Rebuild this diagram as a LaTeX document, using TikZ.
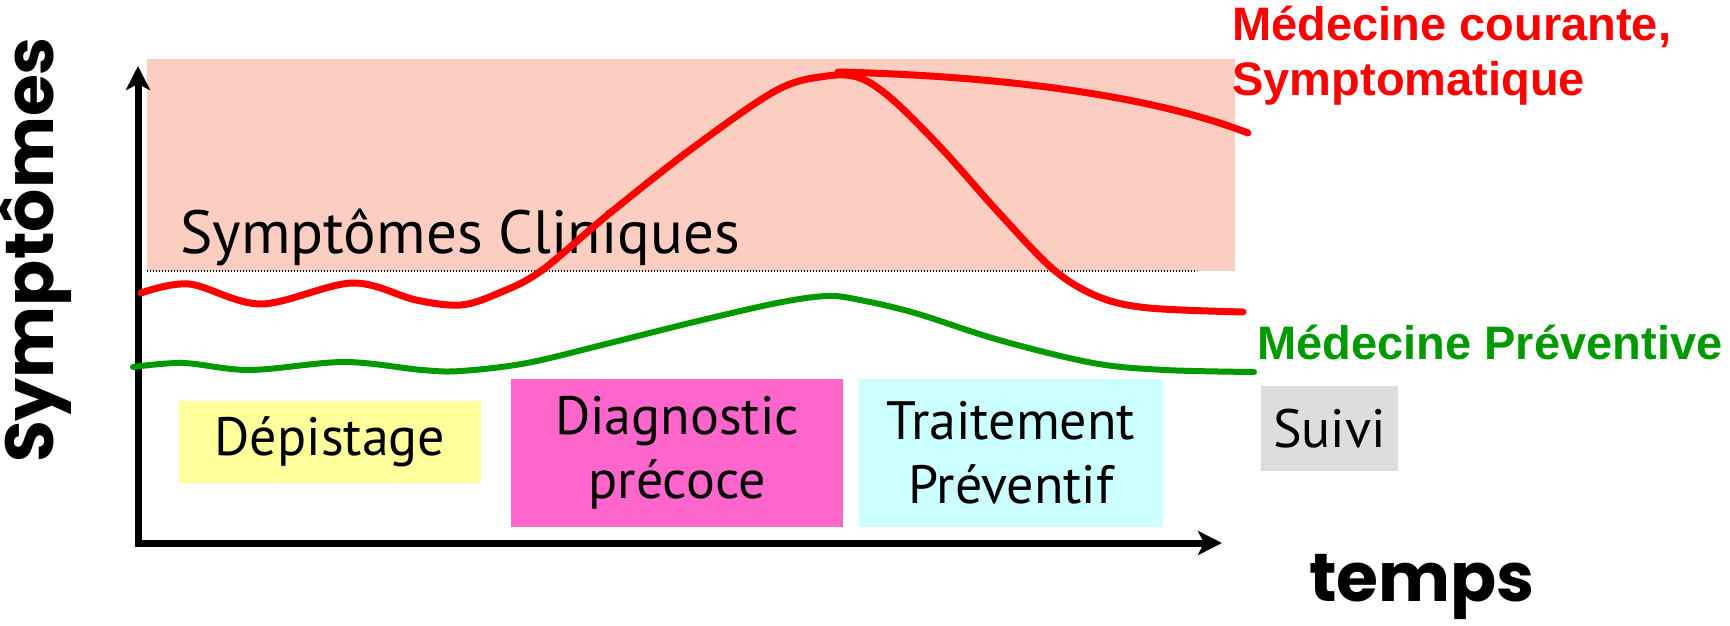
\documentclass[tikz,border=0pt]{standalone}
\usepackage{fontspec}
\setmainfont{PT Sans}
\newfontfamily\axisfont{Poppins}
\newfontfamily\labelfont{Liberation Sans}
\usepackage{tikz}
\usetikzlibrary{arrows.meta}
\definecolor{cliniquerose}{RGB}{251,206,193}
\definecolor{depistjaune}{RGB}{255,255,156}
\definecolor{diagrose}{RGB}{255,102,204}
\definecolor{traitcyan}{RGB}{204,255,255}
\definecolor{suivigris}{RGB}{221,221,221}
\definecolor{prevvert}{RGB}{0,153,0}

\begin{document}
\begin{tikzpicture}[
	x=0.5pt,y=-0.5pt,
	phasebox/.style={fill=#1,inner sep=0pt,align=center,font=\fontsize{27}{32}\selectfont},
	axe/.style={line width=3.5pt,line join=miter,{Stealth[length=12pt,width=12pt,inset=3pt]}-{Stealth[length=12pt,width=12pt,inset=3pt]}},
	courbe/.style={line width=#1,line cap=round,line join=round}
	]
		\useasboundingbox (0,0) rectangle (1730,626);

		% zone des symptomes cliniques
		\fill[cliniquerose] (147,59) rectangle (1235,271);
		\draw[line width=0.7pt,dash pattern=on 0.6pt off 0.9pt] (147,271) -- (1197,271);
		\node[anchor=base west,inner sep=0pt,font=\fontsize{30.5}{36}\selectfont] (cliniques) at (180,253) {Symptômes Cliniques};

		% axes
		\coordinate (haut) at (138,66);
		\coordinate (origine) at (138,543);
		\coordinate (droite) at (1222,543);
		\draw[axe] (haut) -- (origine) -- (droite);
		\node[rotate=90,anchor=base,inner sep=0pt,font=\axisfont\bfseries\fontsize{34}{40}\selectfont] (ordonnee) at (54,250) {Symptômes};
		\node[anchor=base,inner sep=0pt,font=\axisfont\bfseries\fontsize{34}{40}\selectfont] (abscisse) at (1422,601) {temps};

		% medecine courante
		\draw[courbe=3.5pt,red] plot[smooth,tension=0.55] coordinates {(141,293) (189,284) (261,304) (352,283) (416,300) (461,305) (499,293) (541,271) (610,213) (694,147) (777,90) (827,76) (860,78) (893,100) (943,150) (999,213) (1054,270) (1099,297) (1149,308) (1243,312)};
		\draw[courbe=3.5pt,red] (838,72) .. controls (1000,76) and (1150,95) .. (1248,133);
		\node[anchor=north west,inner sep=0pt,align=left,red,font=\labelfont\bfseries\fontsize{23.5}{27.5}\selectfont] (courante) at (1232,6) {Médecine courante,\\Symptomatique};

		% medecine preventive
		\draw[courbe=3pt,prevvert] plot[smooth,tension=0.55] coordinates {(133,367) (183,363) (250,370) (344,362) (422,370) (461,371) (527,363) (610,343) (694,322) (777,303) (827,296) (860,300) (915,313) (999,340) (1093,363) (1165,370) (1254,372)};
		\node[anchor=base west,inner sep=0pt,prevvert,font=\labelfont\bfseries\fontsize{23.5}{27.5}\selectfont] (preventive) at (1257,359) {Médecine Préventive};

		% phases
		\node[phasebox=depistjaune,minimum width=151pt,minimum height=41pt] (depistage) at (330,442) {Dépistage};
		\node[phasebox=diagrose,minimum width=166pt,minimum height=74pt] (diagnostic) at (677,453) {Diagnostic\\précoce};
		\node[phasebox=traitcyan,minimum width=152pt,minimum height=74pt] (traitement) at (1011,453) {Traitement\\Préventif};
		\node[phasebox=suivigris,minimum width=68.5pt,minimum height=42.5pt] (suivi) at (1329.5,428.5) {Suivi};
\end{tikzpicture}
\end{document}
